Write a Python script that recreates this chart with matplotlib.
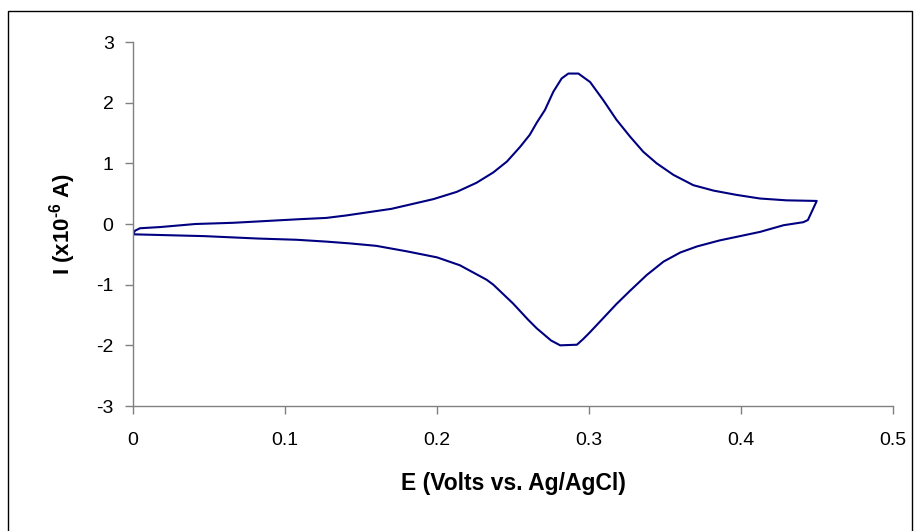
import matplotlib
matplotlib.use('Agg')
import matplotlib.pyplot as plt
from matplotlib.patches import Rectangle

plt.rcParams['font.family'] = ['Liberation Sans', 'DejaVu Sans']
plt.rcParams['axes.unicode_minus'] = False
plt.rcParams['mathtext.fontset'] = 'custom'
plt.rcParams['mathtext.rm'] = 'Liberation Sans:bold'
plt.rcParams['mathtext.bf'] = 'Liberation Sans:bold'

# anodic sweep (0 -> 0.45 V)
e_fwd = [0.0, 0.0013, 0.0046, 0.018, 0.041, 0.066, 0.088, 0.11, 0.127, 0.14,
         0.17, 0.1976, 0.213, 0.226, 0.237, 0.246, 0.2546, 0.261, 0.2656, 0.271,
         0.2765, 0.282, 0.2864, 0.293, 0.3007, 0.3094, 0.318, 0.327, 0.3357,
         0.3445, 0.3555, 0.3686, 0.382, 0.397, 0.4125, 0.43, 0.4498]
i_fwd = [-0.17, -0.11, -0.07, -0.05, 0.0, 0.02, 0.05, 0.08, 0.10, 0.14,
         0.25, 0.41, 0.53, 0.68, 0.85, 1.03, 1.27, 1.47, 1.67, 1.88,
         2.18, 2.40, 2.48, 2.48, 2.34, 2.04, 1.72, 1.44, 1.19,
         1.0, 0.81, 0.64, 0.55, 0.48, 0.42, 0.39, 0.38]

# cathodic sweep (0.45 -> 0 V)
e_rev = [0.4498, 0.444, 0.441, 0.428, 0.4125, 0.3993, 0.386, 0.371, 0.36, 0.349,
         0.338, 0.327, 0.318, 0.3094, 0.30, 0.296, 0.292, 0.281, 0.275, 0.2656,
         0.260, 0.250, 0.237, 0.2327, 0.215, 0.2, 0.18, 0.16, 0.1428, 0.127,
         0.1077, 0.0825, 0.047, 0.0]
i_rev = [0.38, 0.066, 0.03, -0.02, -0.13, -0.2, -0.27, -0.37, -0.47, -0.62,
         -0.84, -1.10, -1.32, -1.55, -1.80, -1.90, -1.99, -2.0, -1.92, -1.72,
         -1.58, -1.31, -1.0, -0.92, -0.68, -0.55, -0.45, -0.36, -0.32, -0.29,
         -0.26, -0.24, -0.2, -0.17]

xticks = [0, 0.1, 0.2, 0.3, 0.4, 0.5]
yticks = [-3, -2, -1, 0, 1, 2, 3]

fig = plt.figure(figsize=(9.15, 5.31), dpi=100)
ax = fig.add_axes([0.1454, 0.2354, 0.8306, 0.6855])

ax.plot(e_fwd + e_rev, i_fwd + i_rev, color='#000080', lw=1.5)

ax.set_xlim(0, 0.5)
ax.set_ylim(-3, 3)
ax.set_xticks(xticks)
ax.set_xticklabels([f'{t:g}' for t in xticks])
ax.set_yticks(yticks)

for s in ['top', 'right']:
    ax.spines[s].set_visible(False)
for s in ['left', 'bottom']:
    ax.spines[s].set_color('#808080')
    ax.spines[s].set_linewidth(1.0)
ax.tick_params(direction='out', length=6, width=1.0, color='#808080',
               labelsize=14, labelcolor='black')
ax.tick_params(axis='y', pad=8)
ax.tick_params(axis='x', pad=13)

ax.set_xlabel('E (Volts vs. Ag/AgCl)', fontsize=16.5, fontweight='bold', labelpad=16)
ax.set_ylabel(r'I (x10$^{\text{-6}}$ A)', fontsize=16, fontweight='bold', labelpad=13)

# chart border (bottom edge runs off the canvas)
fig.patches.append(Rectangle((8 / 915, -0.02), 903.5 / 915, 1.02 - 11 / 531,
                             transform=fig.transFigure, fill=False,
                             edgecolor='black', lw=1.0))

fig.savefig('out.png', dpi=100)
